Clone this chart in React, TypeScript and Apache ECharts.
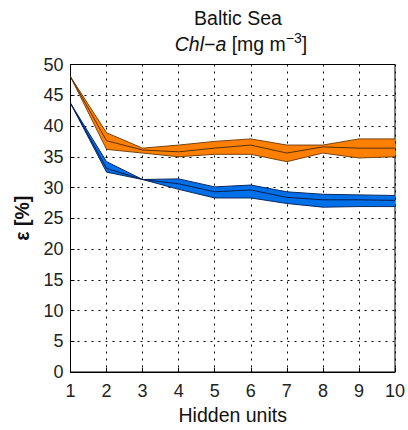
import React, { useEffect, useRef } from "react";
import * as echarts from "echarts";

const hiddenUnits = ["1", "2", "3", "4", "5", "6", "7", "8", "9", "10"];
const orangeTop = [48.0, 38.9, 36.4, 36.9, 37.5, 37.9, 36.9, 36.9, 37.9, 37.9];
const orangeMid = [48.0, 37.6, 36.1, 35.8, 36.4, 36.9, 35.6, 36.6, 36.4, 36.4];
const orangeLow = [48.0, 36.2, 35.6, 35.0, 35.4, 35.4, 34.2, 35.6, 34.8, 35.0];
const blueTop = [43.7, 34.2, 31.3, 31.4, 30.1, 30.4, 29.3, 28.9, 28.8, 28.7];
const blueMid = [43.7, 33.1, 31.3, 30.6, 29.3, 29.6, 28.4, 28.0, 28.0, 27.9];
const blueLow = [43.7, 32.5, 31.3, 29.7, 28.3, 28.3, 27.4, 26.8, 26.9, 26.9];

const diff = (a: number[], b: number[]) => a.map((v, i) => +(v - b[i]).toFixed(2));

export default function App() {
  const ref = useRef<HTMLDivElement>(null);
  useEffect(() => {
    if (!ref.current) return;
    const chart = echarts.init(ref.current, undefined, { renderer: "svg" });
    const font = "Liberation Sans, Arial, sans-serif";
    const big = 19.5;
    chart.setOption({
      animation: false,
      backgroundColor: "#fff",
      textStyle: { fontFamily: font },
      title: [
        {
          text: "Baltic Sea",
          left: 233,
          top: 3,
          textAlign: "center",
          textStyle: { fontSize: big, fontWeight: "normal", color: "#111", fontFamily: font },
        },
        {
          text: "{i|Chl−a}{n| [mg m}{s|−3}{n|]}",
          left: 236,
          top: 26,
          textAlign: "center",
          textStyle: {
            fontSize: big,
            fontWeight: "normal",
            color: "#111",
            fontFamily: font,
            rich: {
              i: { fontSize: big, fontStyle: "italic", color: "#111", fontFamily: font },
              n: { fontSize: big, color: "#111", fontFamily: font },
              s: { fontSize: 14, color: "#111", fontFamily: font, padding: [0, 0, 12, 0] },
            },
          },
        },
      ],
      grid: { left: 70.5, right: 12.5, top: 64.5, bottom: 52, show: true, borderColor: "#000", borderWidth: 1 },
      xAxis: {
        type: "category",
        data: hiddenUnits,
        boundaryGap: false,
        name: "Hidden units",
        nameLocation: "middle",
        nameGap: 33,
        nameTextStyle: { fontSize: big, color: "#111", fontFamily: font },
        axisLine: { lineStyle: { color: "#000", width: 1 } },
        axisTick: { inside: true, length: 4, lineStyle: { color: "#000" } },
        axisLabel: { fontSize: 18, color: "#222", margin: 10, fontFamily: font },
        splitLine: { show: true, lineStyle: { color: "#000", type: [2, 5], width: 1 } },
      },
      yAxis: {
        type: "value",
        min: 0,
        max: 50,
        interval: 5,
        name: "ε [%]",
        nameLocation: "middle",
        nameGap: 39,
        nameRotate: 90,
        nameTextStyle: { fontSize: big, color: "#111", fontWeight: "bold", fontFamily: font },
        axisLine: { show: true, lineStyle: { color: "#000", width: 1 } },
        axisTick: { show: true, inside: true, length: 4, lineStyle: { color: "#000" } },
        axisLabel: { fontSize: 18, color: "#222", margin: 7, fontFamily: font },
        splitLine: { show: true, lineStyle: { color: "#000", type: [2, 5], width: 1 } },
      },
      series: [
        {
          name: "orangeLow",
          type: "line",
          stack: "o",
          data: orangeLow,
          symbol: "none",
          lineStyle: { color: "#7a4210", width: 1 },
        },
        {
          name: "orangeBand",
          type: "line",
          stack: "o",
          data: diff(orangeTop, orangeLow),
          symbol: "none",
          lineStyle: { color: "#7a4210", width: 1 },
          areaStyle: { color: "#ff8000", opacity: 1 },
        },
        {
          name: "orangeMid",
          type: "line",
          data: orangeMid,
          symbol: "none",
          lineStyle: { color: "#5a3010", width: 1 },
        },
        {
          name: "blueLow",
          type: "line",
          stack: "b",
          data: blueLow,
          symbol: "none",
          lineStyle: { color: "#0a2a60", width: 1 },
        },
        {
          name: "blueBand",
          type: "line",
          stack: "b",
          data: diff(blueTop, blueLow),
          symbol: "none",
          lineStyle: { color: "#0a2a60", width: 1 },
          areaStyle: { color: "#0070e8", opacity: 1 },
        },
        {
          name: "blueMid",
          type: "line",
          data: blueMid,
          symbol: "none",
          lineStyle: { color: "#0a2050", width: 1 },
        },
      ],
    });
    return () => chart.dispose();
  }, []);
  return (
    <div
      ref={ref}
      style={{ position: "fixed", left: 0, top: 0, width: 408, height: 430 }}
    />
  );
}
